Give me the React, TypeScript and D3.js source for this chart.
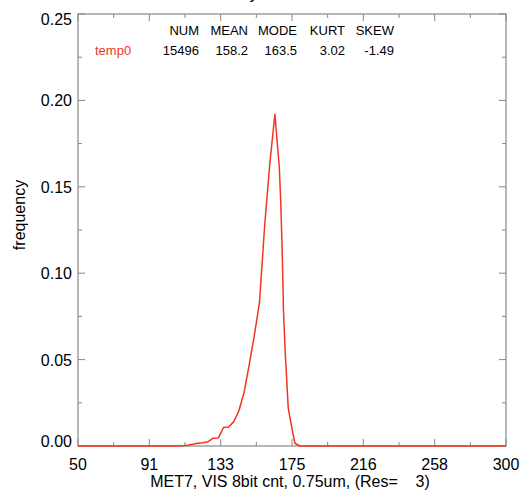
import { useEffect, useRef } from 'react';
import * as d3 from 'd3';

// histogram bins (count value) and frequency
const binValues = [50, 108, 111, 114, 117, 120, 123, 126, 129, 132, 135, 138, 141, 144, 147, 150, 153, 156, 159, 162, 165, 167.6, 168.4, 169.3, 170, 171, 172.8, 174.8, 176.7, 179.5, 300];
const frequencies = [0, 0, 0.0002, 0.0005, 0.001, 0.0016, 0.0019, 0.0025, 0.0045, 0.0047, 0.0107, 0.011, 0.0141, 0.0204, 0.031, 0.047, 0.064, 0.083, 0.127, 0.163, 0.192, 0.161, 0.142, 0.112, 0.079, 0.055, 0.022, 0.011, 0.0016, 0, 0];

const xTickLabels = ['50', '91', '133', '175', '216', '258', '300'];
const yTickLabels = ['0.00', '0.05', '0.10', '0.15', '0.20', '0.25'];

const statHeaders = ['NUM', 'MEAN', 'MODE', 'KURT', 'SKEW'];
const statValues = ['15496', '158.2', '163.5', '3.02', '-1.49'];
const seriesName = 'temp0';

const App = () => {
    const svgRef = useRef<SVGSVGElement>(null);

    useEffect(() => {
        const svg = d3.select(svgRef.current);
        svg.selectAll('*').remove();

        const width = 529;
        const height = 493;
        const left = 78, right = 506, top = 14, bottom = 446;
        const axisColor = '#888';
        const lineColor = '#f0361e';
        const font = '"Liberation Sans", Arial, sans-serif';

        svg.attr('width', width).attr('height', height);

        const x = d3.scaleLinear().domain([50, 300]).range([left, right]);
        const y = d3.scaleLinear().domain([0, 0.25]).range([bottom, top]);

        const xMajor = d3.range(7).map((i) => 50 + (i * 250) / 6);
        const xMinor = d3.range(13).map((i) => 50 + (i * 250) / 12);
        const yMajor = d3.range(6).map((i) => i * 0.05);
        const yMinor = d3.range(11).map((i) => i * 0.025);

        // cut-off title above the page
        svg.append('text')
            .attr('x', 258)
            .attr('y', -1)
            .attr('text-anchor', 'end')
            .style('font-family', font)
            .style('font-size', '17px')
            .attr('fill', '#000')
            .text('Daily');

        // frame
        svg.append('rect')
            .attr('x', left)
            .attr('y', top)
            .attr('width', right - left)
            .attr('height', bottom - top)
            .attr('fill', 'none')
            .attr('stroke', axisColor)
            .attr('stroke-width', 1.2);

        // ticks
        const ticks = svg.append('g').attr('stroke', axisColor).attr('stroke-width', 1);
        xMinor.forEach((v, i) => {
            const len = i % 2 === 0 ? 7 : 4;
            ticks.append('line').attr('x1', x(v)).attr('x2', x(v)).attr('y1', bottom).attr('y2', bottom - len);
            ticks.append('line').attr('x1', x(v)).attr('x2', x(v)).attr('y1', top).attr('y2', top + len);
        });
        yMinor.forEach((v, i) => {
            const len = i % 2 === 0 ? 7 : 4;
            ticks.append('line').attr('x1', left).attr('x2', left + len).attr('y1', y(v)).attr('y2', y(v));
            ticks.append('line').attr('x1', right).attr('x2', right - len).attr('y1', y(v)).attr('y2', y(v));
        });

        // x tick labels
        svg.append('g')
            .selectAll('text')
            .data(xMajor)
            .join('text')
            .attr('x', (d) => x(d))
            .attr('y', 470)
            .attr('text-anchor', 'middle')
            .style('font-family', font)
            .style('font-size', '16px')
            .attr('fill', '#000')
            .text((d, i) => xTickLabels[i]);

        // y tick labels
        svg.append('g')
            .selectAll('text')
            .data(yMajor)
            .join('text')
            .attr('x', 72)
            .attr('y', (d, i) => {
                if (i === 0) return y(d) + 1;
                if (i === yMajor.length - 1) return y(d) + 11;
                return y(d) + 6;
            })
            .attr('text-anchor', 'end')
            .style('font-family', font)
            .style('font-size', '16px')
            .attr('fill', '#000')
            .text((d, i) => yTickLabels[i]);

        // axis titles
        svg.append('text')
            .attr('x', 290)
            .attr('y', 487)
            .attr('text-anchor', 'middle')
            .style('font-family', font)
            .style('font-size', '16px')
            .style('white-space', 'pre')
            .attr('fill', '#000')
            .text('MET7, VIS 8bit cnt, 0.75um, (Res=    3)');

        svg.append('text')
            .attr('transform', 'translate(25,215) rotate(-90)')
            .attr('text-anchor', 'middle')
            .style('font-family', font)
            .style('font-size', '16px')
            .attr('fill', '#000')
            .text('frequency');

        // stats table
        const colRight = [199, 248, 297, 345, 394];
        svg.append('g')
            .selectAll('text')
            .data(statHeaders)
            .join('text')
            .attr('x', (d, i) => colRight[i])
            .attr('y', 35)
            .attr('text-anchor', 'end')
            .style('font-family', font)
            .style('font-size', '13px')
            .attr('fill', '#000')
            .text((d) => d);

        svg.append('g')
            .selectAll('text')
            .data(statValues)
            .join('text')
            .attr('x', (d, i) => colRight[i])
            .attr('y', 55)
            .attr('text-anchor', 'end')
            .style('font-family', font)
            .style('font-size', '13px')
            .attr('fill', '#000')
            .text((d) => d);

        svg.append('text')
            .attr('x', 95)
            .attr('y', 55)
            .style('font-family', font)
            .style('font-size', '13px')
            .attr('fill', lineColor)
            .text(seriesName);

        // histogram curve
        const line = d3.line<number>()
            .x((d, i) => x(binValues[i]))
            .y((d) => y(d));

        svg.append('path')
            .datum(frequencies)
            .attr('d', line)
            .attr('fill', 'none')
            .attr('stroke', lineColor)
            .attr('stroke-width', 1.5)
            .attr('stroke-linejoin', 'round');
    }, []);

    return (
        <svg ref={svgRef} style={{ position: 'absolute', left: 0, top: 0 }} />
    );
};

export default App;
